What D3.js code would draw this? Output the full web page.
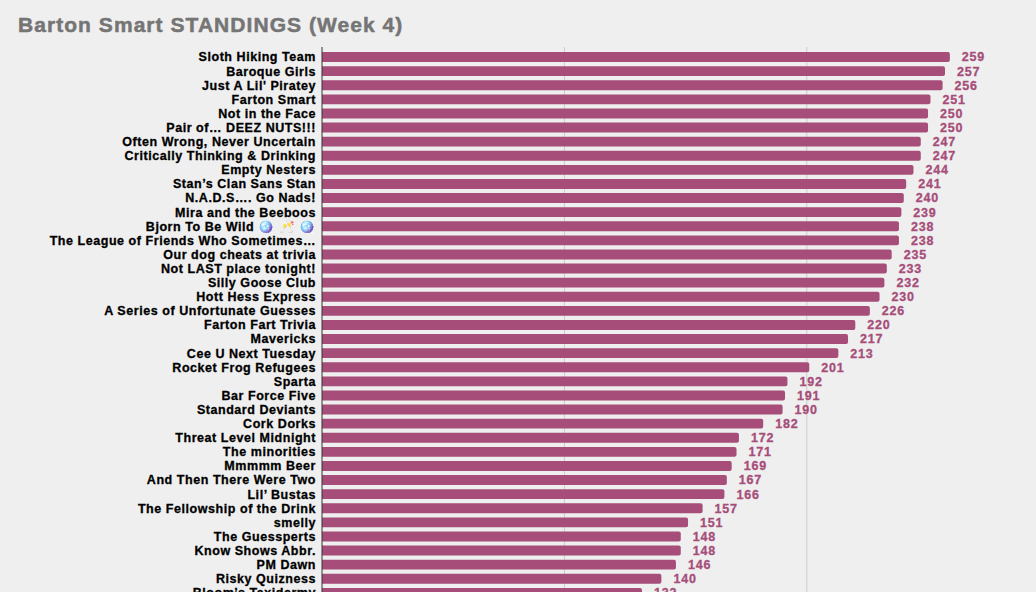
<!DOCTYPE html>
<html>
<head>
<meta charset="utf-8">
<script src="https://cdn.jsdelivr.net/npm/d3@7"></script>
<style>
  html, body { margin: 0; padding: 0; background: #efefef; overflow: hidden; }
  svg { display: block; }
</style>
</head>
<body>
<div id="chart"></div>
<script>
/* Barton Smart standings — horizontal bar chart (week 4) */

const teams = [
  'Sloth Hiking Team', 'Baroque Girls', "Just A Lil' Piratey", 'Farton Smart',
  'Not in the Face', 'Pair of… DEEZ NUTS!!!', 'Often Wrong, Never Uncertain',
  'Critically Thinking & Drinking', 'Empty Nesters', 'Stan’s Clan Sans Stan',
  'N.A.D.S…. Go Nads!', 'Mira and the Beeboos', 'Bjorn To Be Wild 🪩 🥂 🪩',
  'The League of Friends Who Sometimes…', 'Our dog cheats at trivia',
  'Not LAST place tonight!', 'Silly Goose Club', 'Hott Hess Express',
  'A Series of Unfortunate Guesses', 'Farton Fart Trivia', 'Mavericks',
  'Cee U Next Tuesday', 'Rocket Frog Refugees', 'Sparta', 'Bar Force Five',
  'Standard Deviants', 'Cork Dorks', 'Threat Level Midnight', 'The minorities',
  'Mmmmm Beer', 'And Then There Were Two', 'Lil’ Bustas',
  'The Fellowship of the Drink', 'smelly', 'The Guessperts', 'Know Shows Abbr.',
  'PM Dawn', 'Risky Quizness', 'Bloom’s Taxidermy'
];

const points = [
  259, 257, 256, 251, 250, 250, 247, 247, 244, 241,
  240, 239, 238, 238, 235, 233, 232, 230, 226, 220,
  217, 213, 201, 192, 191, 190, 182, 172, 171, 169,
  167, 166, 157, 151, 148, 148, 146, 140, 132
];

const gridTicks = [100, 200];

const width = 1036;
const height = 640;
const margin = { top: 50, left: 322 };
const barColor = '#a64d79';
const font = '"Liberation Sans", Arial, sans-serif';

const rows = teams.map((t, i) => ({ team: t, value: points[i] }));

const svg = d3.select('#chart').append('svg')
  .attr('width', width)
  .attr('height', height);

// ---- Title ----
svg.append('text')
  .attr('x', 18).attr('y', 32)
  .attr('font-family', font)
  .attr('font-size', '21px')
  .attr('font-weight', '700')
  .attr('letter-spacing', '1.05px')
  .attr('fill', '#757575')
  .attr('stroke', '#757575')
  .attr('stroke-width', 0.5)
  .text('Barton Smart STANDINGS (Week 4)');

// ---- Scales ----
const x = d3.scaleLinear()
  .domain([0, 290])
  .range([margin.left, margin.left + 703]);

const step = 14.1;
const y = d3.scaleBand()
  .domain(teams)
  .range([margin.top, margin.top + step * teams.length])
  .paddingInner(0.3)
  .paddingOuter(0.15);

// ---- Grid ----
svg.append('g')
  .selectAll('line').data(gridTicks).join('line')
  .attr('x1', d => x(d)).attr('x2', d => x(d))
  .attr('y1', margin.top - 3).attr('y2', height)
  .attr('stroke', '#cccccc')
  .attr('stroke-width', 1);

// ---- Bars ----
svg.append('g')
  .selectAll('path').data(rows).join('path')
  .attr('fill', barColor)
  .attr('d', d => {
    const x0 = x(0), x1 = x(d.value), y0 = y(d.team), h = y.bandwidth(), r = 2;
    return `M${x0},${y0}H${x1 - r}Q${x1},${y0} ${x1},${y0 + r}` +
      `V${y0 + h - r}Q${x1},${y0 + h} ${x1 - r},${y0 + h}H${x0}Z`;
  });

// ---- Baseline ----
svg.append('line')
  .attr('x1', x(0)).attr('x2', x(0))
  .attr('y1', margin.top - 3).attr('y2', height)
  .attr('stroke', '#333333')
  .attr('stroke-width', 1);

// ---- Team labels ----
svg.append('g')
  .selectAll('text').data(rows).join('text')
  .attr('x', x(0) - 6)
  .attr('y', d => y(d.team) + y.bandwidth() / 2)
  .attr('dy', '0.35em')
  .attr('text-anchor', 'end')
  .attr('font-family', font)
  .attr('font-size', '12.5px')
  .attr('font-weight', '700')
  .attr('letter-spacing', '0.55px')
  .attr('fill', '#000000')
  .attr('stroke', '#000000')
  .attr('stroke-width', 0.3)
  .text(d => d.team);

// ---- Value labels ----
svg.append('g')
  .selectAll('text').data(rows).join('text')
  .attr('x', d => x(d.value) + 12)
  .attr('y', d => y(d.team) + y.bandwidth() / 2)
  .attr('dy', '0.35em')
  .attr('font-family', font)
  .attr('font-size', '12.5px')
  .attr('font-weight', '700')
  .attr('letter-spacing', '0.8px')
  .attr('fill', barColor)
  .attr('stroke', barColor)
  .attr('stroke-width', 0.3)
  .text(d => d.value);
</script>
</body>
</html>
